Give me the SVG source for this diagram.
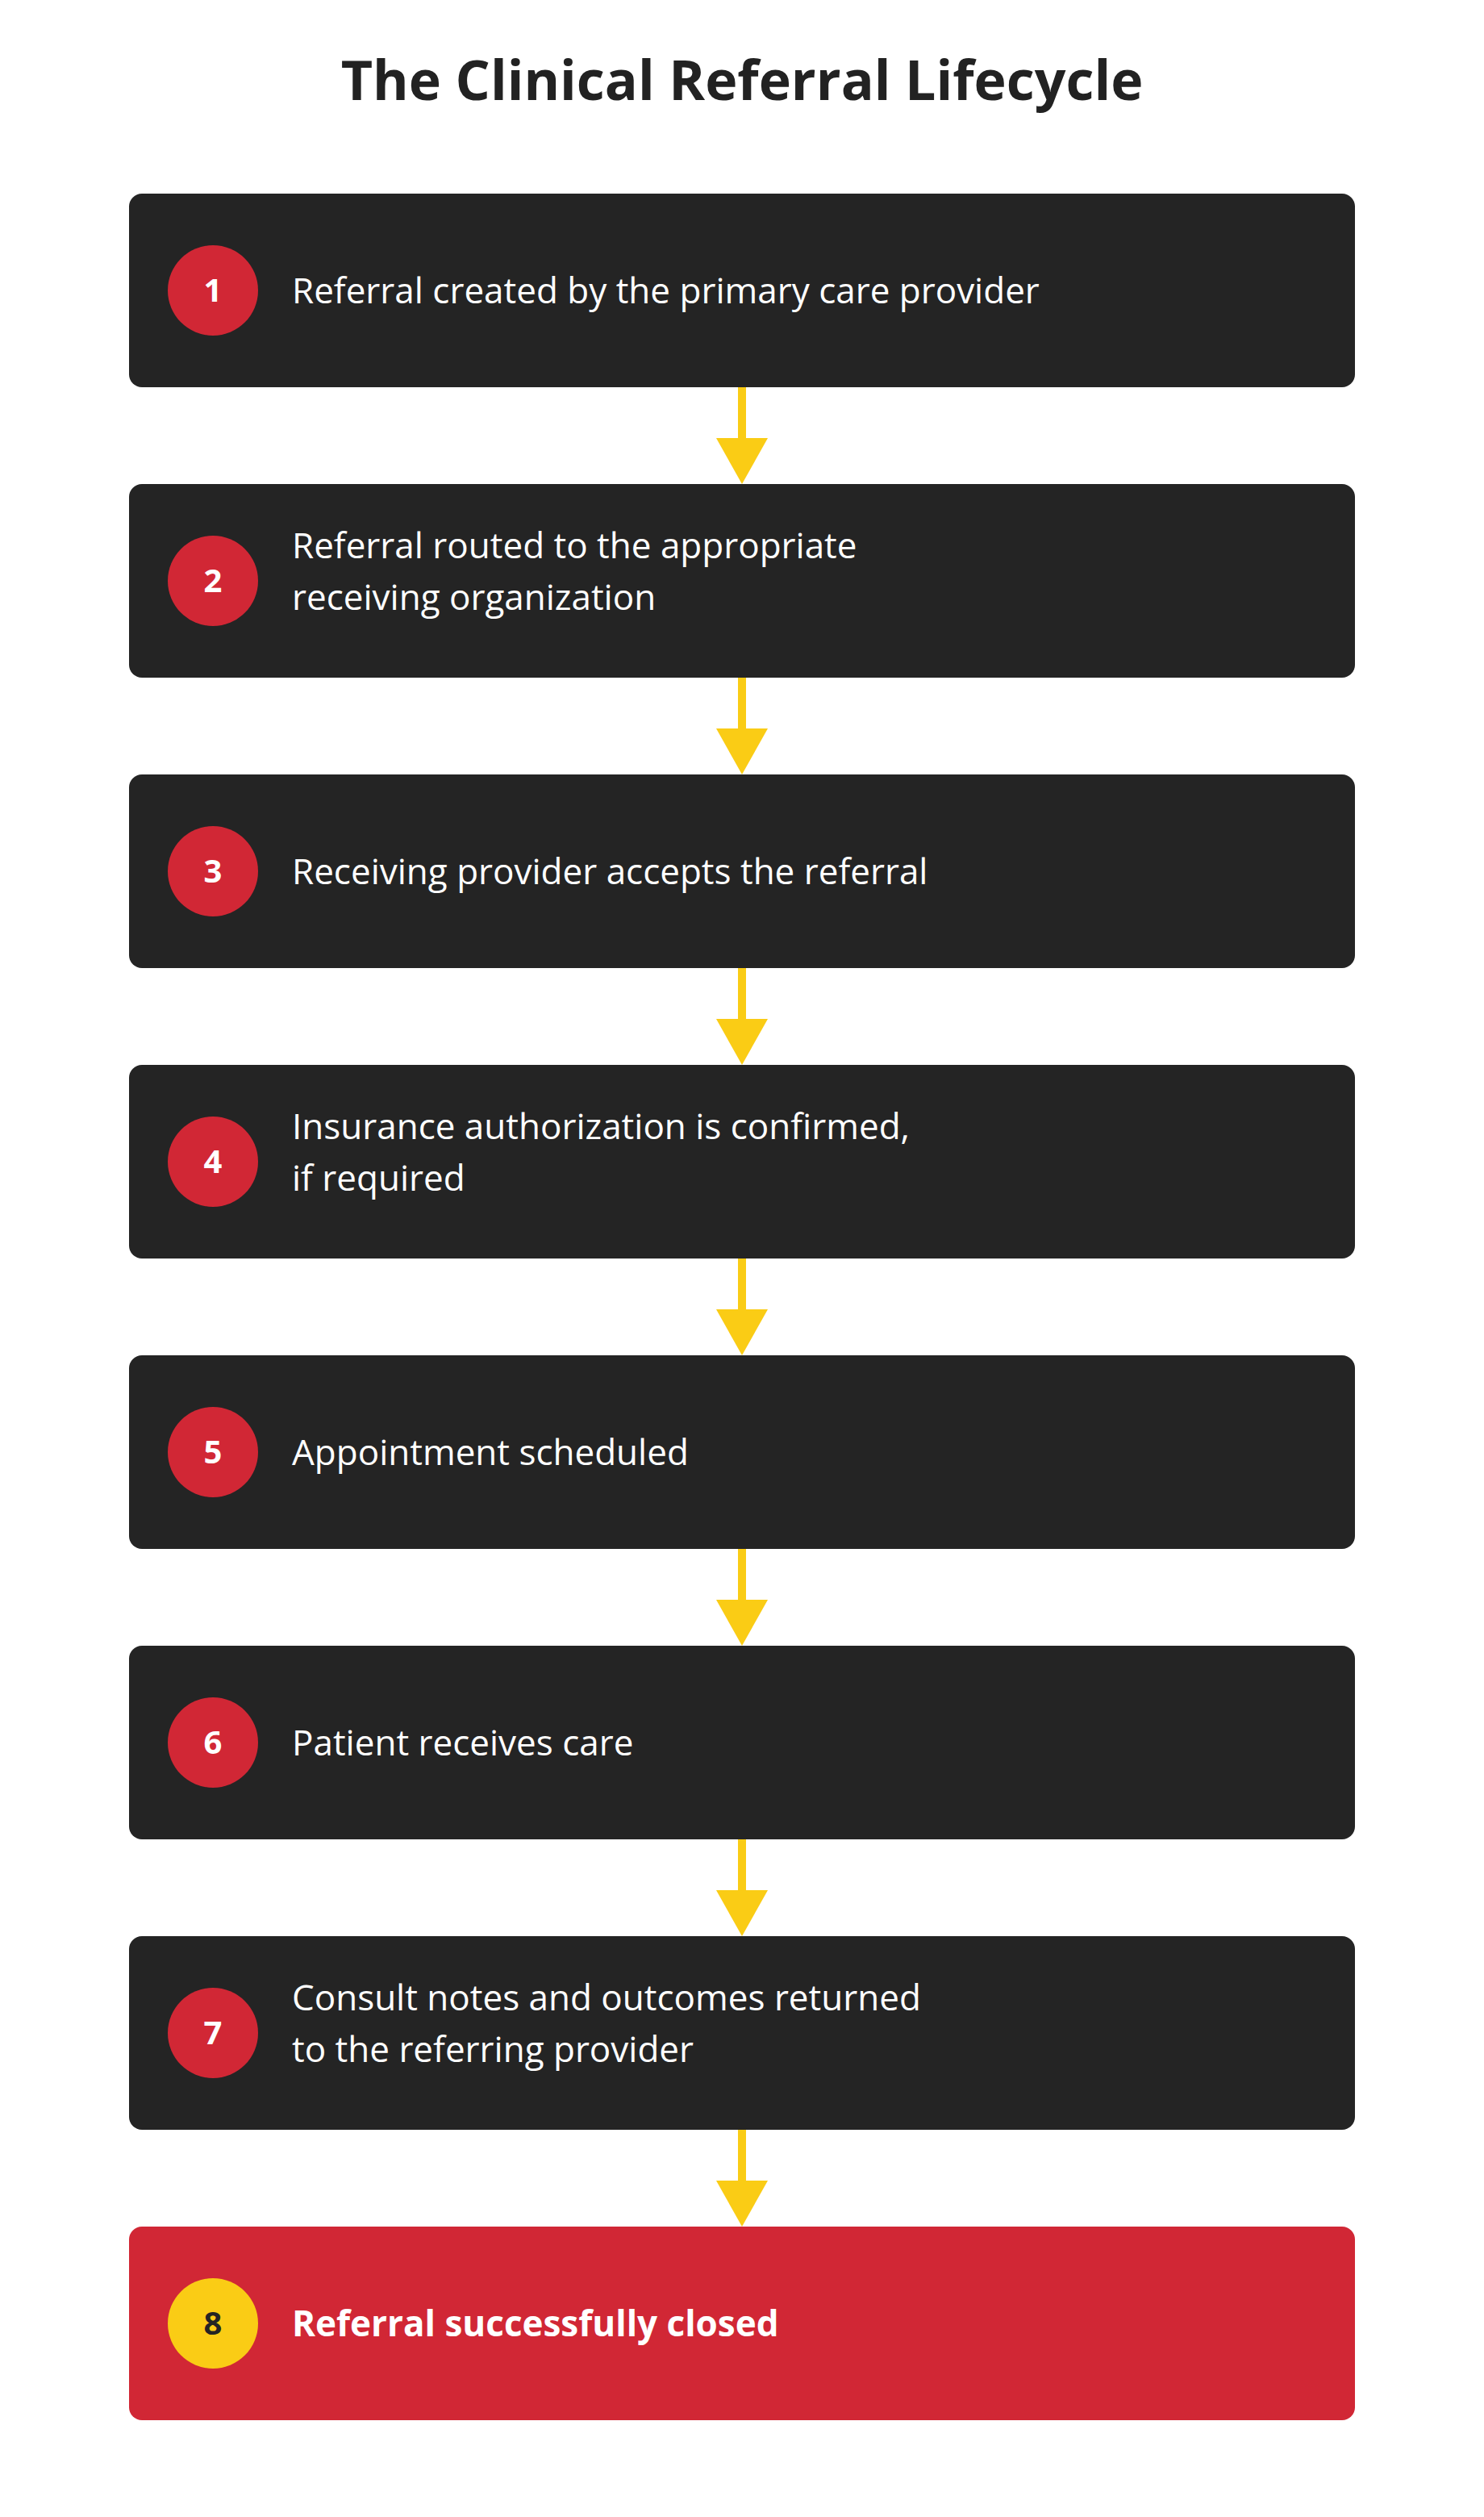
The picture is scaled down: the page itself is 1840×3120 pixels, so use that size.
<svg xmlns="http://www.w3.org/2000/svg" width="1840" height="3120" viewBox="0 0 1840 3120">
<style>
.box{fill:#242424}
.final{fill:#D12735}
.num{fill:#D12735}
.numf{fill:#FACC15}
.t{font-family:"Open Sans","Noto Sans",sans-serif;font-size:44px;fill:#fff}
.n{font-family:"Open Sans","Noto Sans",sans-serif;font-size:40px;font-weight:bold;fill:#fff;text-anchor:middle}
.title{font-family:"Open Sans","Noto Sans",sans-serif;font-size:68px;font-weight:bold;fill:#222;text-anchor:middle}
.c{stroke:#FACC15;stroke-width:10;fill:none}
</style>
<defs><marker id="ah" markerUnits="userSpaceOnUse" markerWidth="64" markerHeight="58" refX="32" refY="58" orient="auto-start-reverse" viewBox="0 0 64 58"><path d="M0,0 L64,0 L32,58 Z" fill="#FACC15" transform="rotate(0)"/></marker></defs>
<rect width="1840" height="3120" fill="#fff"/>
<text class="title" x="920" y="124">The Clinical Referral Lifecycle</text>
<g id="connectors">
<path class="c" d="M920,480 V545"/><path d="M888,543 H952 L920,600 Z" fill="#FACC15"/>
<path class="c" d="M920,840 V905"/><path d="M888,903 H952 L920,960 Z" fill="#FACC15"/>
<path class="c" d="M920,1200 V1265"/><path d="M888,1263 H952 L920,1320 Z" fill="#FACC15"/>
<path class="c" d="M920,1560 V1625"/><path d="M888,1623 H952 L920,1680 Z" fill="#FACC15"/>
<path class="c" d="M920,1920 V1985"/><path d="M888,1983 H952 L920,2040 Z" fill="#FACC15"/>
<path class="c" d="M920,2280 V2345"/><path d="M888,2343 H952 L920,2400 Z" fill="#FACC15"/>
<path class="c" d="M920,2640 V2705"/><path d="M888,2703 H952 L920,2760 Z" fill="#FACC15"/>
</g>
<g id="n1"><rect class="box" x="160" y="240" width="1520" height="240" rx="16"/><circle class="num" cx="264" cy="360" r="56"/><text class="n" x="264" y="374">1</text><text class="t" x="362" y="376">Referral created by the primary care provider</text></g>
<g id="n2"><rect class="box" x="160" y="600" width="1520" height="240" rx="16"/><circle class="num" cx="264" cy="720" r="56"/><text class="n" x="264" y="734">2</text><text class="t" x="362" y="692">Referral routed to the appropriate</text><text class="t" x="362" y="756">receiving organization</text></g>
<g id="n3"><rect class="box" x="160" y="960" width="1520" height="240" rx="16"/><circle class="num" cx="264" cy="1080" r="56"/><text class="n" x="264" y="1094">3</text><text class="t" x="362" y="1096">Receiving provider accepts the referral</text></g>
<g id="n4"><rect class="box" x="160" y="1320" width="1520" height="240" rx="16"/><circle class="num" cx="264" cy="1440" r="56"/><text class="n" x="264" y="1454">4</text><text class="t" x="362" y="1412">Insurance authorization is confirmed,</text><text class="t" x="362" y="1476">if required</text></g>
<g id="n5"><rect class="box" x="160" y="1680" width="1520" height="240" rx="16"/><circle class="num" cx="264" cy="1800" r="56"/><text class="n" x="264" y="1814">5</text><text class="t" x="362" y="1816">Appointment scheduled</text></g>
<g id="n6"><rect class="box" x="160" y="2040" width="1520" height="240" rx="16"/><circle class="num" cx="264" cy="2160" r="56"/><text class="n" x="264" y="2174">6</text><text class="t" x="362" y="2176">Patient receives care</text></g>
<g id="n7"><rect class="box" x="160" y="2400" width="1520" height="240" rx="16"/><circle class="num" cx="264" cy="2520" r="56"/><text class="n" x="264" y="2534">7</text><text class="t" x="362" y="2492">Consult notes and outcomes returned</text><text class="t" x="362" y="2556">to the referring provider</text></g>
<g id="n8"><rect class="final" x="160" y="2760" width="1520" height="240" rx="16"/><circle class="numf" cx="264" cy="2880" r="56"/><text class="n" x="264" y="2894" style="fill:#242424">8</text><text class="t" x="362" y="2896" style="font-weight:bold">Referral successfully closed</text></g>
</svg>
